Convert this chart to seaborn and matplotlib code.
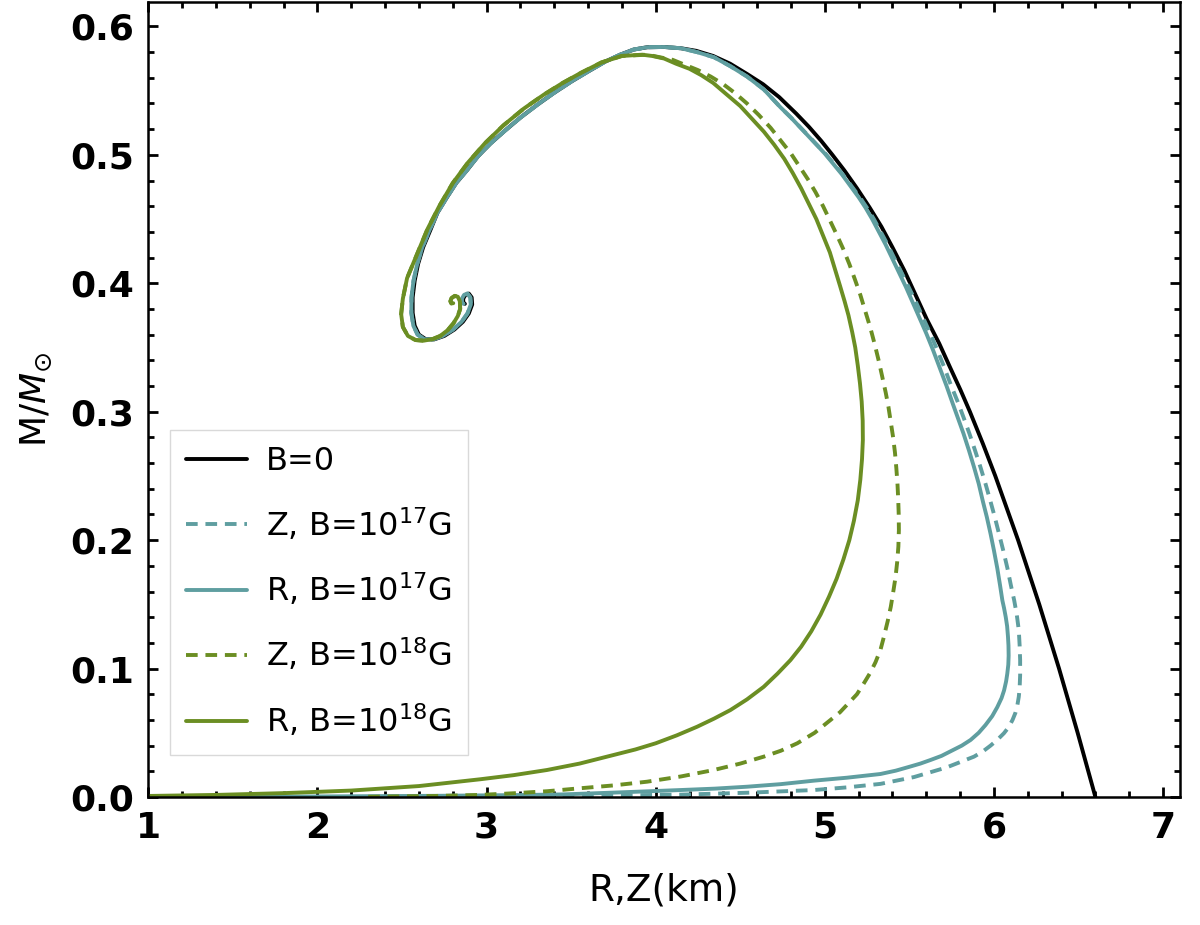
import matplotlib
matplotlib.use("Agg")
import matplotlib.pyplot as plt
import seaborn as sns
from matplotlib.ticker import MultipleLocator, FormatStrFormatter

# B=0
b0_x = [6.60, 6.495, 6.385, 6.268, 6.143, 6.008, 5.935, 5.858, 5.802, 5.739, 5.677, 5.603, 5.533,
        5.47, 5.40, 5.335, 5.265, 5.19, 5.115, 5.045, 4.978, 4.905, 4.832, 4.73, 4.635, 4.54,
        4.44, 4.34, 4.24, 4.15, 4.05, 3.95, 3.87, 3.79, 3.70, 3.594, 3.50, 3.396, 3.30, 3.20,
        3.11, 3.022, 2.95, 2.884, 2.82, 2.766, 2.71, 2.667, 2.625, 2.595, 2.575, 2.563, 2.563,
        2.575, 2.60, 2.64, 2.69, 2.75, 2.81, 2.86, 2.895, 2.915, 2.912, 2.895, 2.875, 2.862,
        2.862, 2.872]
b0_y = [0.0, 0.050, 0.100, 0.150, 0.200, 0.250, 0.275, 0.300, 0.317, 0.335, 0.353, 0.372, 0.392,
        0.410, 0.428, 0.444, 0.459, 0.474, 0.488, 0.500, 0.511, 0.522, 0.532, 0.545, 0.555,
        0.563, 0.571, 0.577, 0.581, 0.583, 0.584, 0.5838, 0.582, 0.578, 0.5725, 0.5644, 0.557,
        0.548, 0.539, 0.529, 0.519, 0.5087, 0.499, 0.488, 0.478, 0.467, 0.455, 0.4412, 0.428,
        0.415, 0.402, 0.389, 0.377, 0.367, 0.360, 0.3565, 0.3563, 0.359, 0.364, 0.370, 0.3765,
        0.3835, 0.389, 0.392, 0.391, 0.388, 0.385, 0.384]

# upper branch shared by both B=10^17 curves
top17_x = [4.639, 4.54, 4.442, 4.345, 4.245, 4.15, 4.05, 3.95, 3.87, 3.79, 3.70, 3.594, 3.50,
           3.396, 3.30, 3.20, 3.11, 3.022, 2.95, 2.884, 2.82, 2.766, 2.71, 2.662, 2.62, 2.59,
           2.568, 2.556, 2.555, 2.567, 2.592, 2.632, 2.682, 2.742, 2.802, 2.852, 2.887, 2.907,
           2.904, 2.887, 2.867, 2.854, 2.854, 2.864]
top17_y = [0.551, 0.561, 0.569, 0.576, 0.580, 0.583, 0.584, 0.5838, 0.582, 0.578, 0.5725, 0.5644,
           0.557, 0.548, 0.539, 0.529, 0.519, 0.5087, 0.499, 0.488, 0.478, 0.467, 0.455, 0.4412,
           0.428, 0.415, 0.402, 0.389, 0.377, 0.367, 0.360, 0.3565, 0.3563, 0.359, 0.364, 0.370,
           0.3765, 0.3835, 0.389, 0.392, 0.391, 0.388, 0.385, 0.384]

# Z, B=10^17 G
z17_x = [2.3, 3.0, 3.6, 4.146, 4.541, 4.935, 5.133, 5.329, 5.527, 5.72, 5.882, 5.935, 5.98, 6.02,
         6.059, 6.088, 6.11, 6.127, 6.138, 6.147, 6.152, 6.155, 6.155, 6.152, 6.147, 6.135, 6.12,
         6.10, 6.08, 6.055, 6.03, 6.005, 5.98, 5.95, 5.92, 5.888, 5.855, 5.822, 5.788, 5.745,
         5.705, 5.662, 5.62, 5.578, 5.537, 5.496, 5.455, 5.413, 5.372, 5.331, 5.29, 5.248, 5.207,
         5.156, 5.105, 5.054, 5.003, 4.952, 4.902, 4.851, 4.80, 4.738]
z17_y = [0.0001, 0.0005, 0.0010, 0.0018, 0.0033, 0.0054, 0.0075, 0.0102, 0.0155, 0.0230, 0.0314,
         0.0355, 0.040, 0.0445, 0.0496, 0.0545, 0.060, 0.0655, 0.071, 0.078, 0.085, 0.095, 0.1066,
         0.118, 0.130, 0.142, 0.153, 0.165, 0.178, 0.192, 0.205, 0.218, 0.230, 0.244, 0.257,
         0.270, 0.283, 0.295, 0.307, 0.321, 0.335, 0.349, 0.362, 0.374, 0.386, 0.397, 0.408,
         0.419, 0.430, 0.440, 0.450, 0.459, 0.467, 0.476, 0.485, 0.493, 0.501, 0.508, 0.515,
         0.522, 0.529, 0.537]

# R, B=10^17 G
r17_x = [1.3, 2.0, 2.7, 3.2, 3.45, 3.751, 4.146, 4.35, 4.541, 4.74, 4.935, 5.13, 5.329, 5.42,
         5.50, 5.565, 5.625, 5.69, 5.75, 5.81, 5.862, 5.91, 5.95, 5.99, 6.02, 6.045, 6.06, 6.072,
         6.079, 6.085, 6.087, 6.086, 6.083, 6.078, 6.07, 6.06, 6.05, 6.036, 6.02, 6.00, 5.98,
         5.958, 5.935, 5.91, 5.882, 5.852, 5.82, 5.79, 5.76, 5.72, 5.68, 5.64, 5.60, 5.56, 5.52,
         5.48, 5.44, 5.40, 5.36, 5.32, 5.28, 5.24, 5.20, 5.15, 5.10, 5.05, 5.00, 4.95, 4.90,
         4.85, 4.80, 4.738]
r17_y = [0.0002, 0.0004, 0.0009, 0.0015, 0.0020, 0.0034, 0.0054, 0.0065, 0.0080, 0.0100, 0.0127,
         0.0150, 0.0179, 0.0205, 0.0235, 0.0260, 0.0288, 0.032, 0.036, 0.040, 0.0444, 0.050,
         0.056, 0.063, 0.070, 0.077, 0.083, 0.090, 0.096, 0.103, 0.110, 0.118, 0.125, 0.133,
         0.140, 0.147, 0.153, 0.165, 0.178, 0.192, 0.205, 0.218, 0.230, 0.244, 0.257, 0.270,
         0.283, 0.294, 0.305, 0.320, 0.334, 0.348, 0.361, 0.373, 0.385, 0.397, 0.408, 0.419,
         0.430, 0.440, 0.450, 0.459, 0.467, 0.476, 0.485, 0.493, 0.501, 0.508, 0.515, 0.522,
         0.529, 0.537]

# upper branch shared by both B=10^18 curves
top18_x = [3.80, 3.68, 3.56, 3.45, 3.34, 3.22, 3.10, 2.99, 2.89, 2.80, 2.72, 2.65, 2.59, 2.53,
           2.505, 2.495, 2.505, 2.535, 2.58, 2.627, 2.68, 2.726, 2.77, 2.805, 2.83, 2.844, 2.842,
           2.83, 2.812, 2.793, 2.786, 2.792, 2.803]
top18_y = [0.577, 0.572, 0.564, 0.556, 0.547, 0.536, 0.523, 0.509, 0.494, 0.478, 0.460, 0.442,
           0.423, 0.404, 0.388, 0.376, 0.366, 0.359, 0.3558, 0.3553, 0.3565, 0.359, 0.3635, 0.369,
           0.3745, 0.380, 0.386, 0.3895, 0.3902, 0.3885, 0.386, 0.3843, 0.3845]

# Z, B=10^18 G
z18_x = [2.3, 2.7, 2.96, 3.16, 3.36, 3.554, 3.75, 3.949, 4.15, 4.343, 4.50, 4.639, 4.74, 4.837,
         4.94, 5.034, 5.09, 5.14, 5.19, 5.231, 5.27, 5.30, 5.33, 5.35, 5.372, 5.39, 5.405, 5.418,
         5.428, 5.435, 5.438, 5.437, 5.434, 5.43, 5.423, 5.415, 5.404, 5.39, 5.376, 5.36, 5.34,
         5.32, 5.296, 5.27, 5.24, 5.21, 5.178, 5.145, 5.108, 5.07, 5.03, 4.99, 4.945, 4.90, 4.85,
         4.80, 4.74, 4.68, 4.61, 4.54, 4.47, 4.40, 4.325, 4.25, 4.175, 4.10, 4.025, 3.95]
z18_y = [0.0002, 0.0008, 0.0016, 0.0029, 0.0045, 0.0068, 0.0090, 0.0119, 0.0160, 0.0210, 0.0260,
         0.0314, 0.036, 0.0418, 0.050, 0.060, 0.066, 0.073, 0.080, 0.0885, 0.097, 0.105, 0.115,
         0.125, 0.137, 0.148, 0.160, 0.171, 0.183, 0.195, 0.208, 0.220, 0.232, 0.243, 0.256,
         0.268, 0.280, 0.292, 0.304, 0.315, 0.327, 0.339, 0.352, 0.365, 0.378, 0.391, 0.403,
         0.415, 0.427, 0.438, 0.449, 0.460, 0.471, 0.481, 0.491, 0.501, 0.511, 0.521, 0.531,
         0.540, 0.548, 0.555, 0.561, 0.566, 0.570, 0.574, 0.576, 0.578]

# R, B=10^18 G
r18_x = [1.0, 1.4, 1.8, 2.2, 2.6, 2.963, 3.16, 3.357, 3.55, 3.751, 3.88, 4.0, 4.125, 4.245, 4.345,
         4.442, 4.54, 4.639, 4.72, 4.797, 4.86, 4.92, 4.975, 5.025, 5.07, 5.11, 5.145, 5.172,
         5.195, 5.21, 5.22, 5.225, 5.224, 5.218, 5.208, 5.195, 5.18, 5.162, 5.14, 5.117, 5.09,
         5.06, 5.03, 4.99, 4.95, 4.905, 4.86, 4.81, 4.76, 4.70, 4.64, 4.57, 4.50, 4.42, 4.34,
         4.27, 4.20, 4.12, 4.05, 3.98, 3.92]
r18_y = [0.0008, 0.0016, 0.0030, 0.0050, 0.0085, 0.0138, 0.0170, 0.0210, 0.0260, 0.0327, 0.0370,
         0.0418, 0.0480, 0.0547, 0.0610, 0.0677, 0.0760, 0.0858, 0.0960, 0.1066, 0.117, 0.129,
         0.142, 0.156, 0.170, 0.185, 0.200, 0.215, 0.231, 0.247, 0.263, 0.278, 0.293, 0.308,
         0.322, 0.336, 0.350, 0.362, 0.375, 0.386, 0.398, 0.411, 0.424, 0.437, 0.450, 0.462,
         0.474, 0.486, 0.497, 0.508, 0.518, 0.528, 0.538, 0.547, 0.556, 0.562, 0.567, 0.571,
         0.575, 0.577, 0.578]

labels = ["B=0", "Z, B=10$^{17}$G", "R, B=10$^{17}$G", "Z, B=10$^{18}$G", "R, B=10$^{18}$G"]

sns.set_theme(style="ticks")
plt.rcParams["font.family"] = ["DejaVu Sans"]
plt.rcParams["mathtext.fontset"] = "dejavusans"
for key in ["text.color", "axes.labelcolor", "xtick.color", "ytick.color", "axes.edgecolor"]:
    plt.rcParams[key] = "black"

teal = "#5F9EA0"
green = "#6B8E23"
lw = 2.8
dash = (0, (3, 2))

fig = plt.figure(figsize=(12, 9.25), dpi=100)
ax = fig.add_axes([0.1236, 0.1384, 0.8597, 0.8594])

sns.lineplot(x=b0_x, y=b0_y, sort=False, estimator=None, color="black", linewidth=lw,
             label=labels[0], ax=ax)
sns.lineplot(x=z17_x + top17_x, y=z17_y + top17_y, sort=False, estimator=None, color=teal,
             linewidth=lw, linestyle=dash, label=labels[1], ax=ax)
sns.lineplot(x=r17_x + top17_x, y=r17_y + top17_y, sort=False, estimator=None, color=teal,
             linewidth=lw, label=labels[2], ax=ax)
sns.lineplot(x=z18_x + top18_x, y=z18_y + top18_y, sort=False, estimator=None, color=green,
             linewidth=lw, linestyle=dash, label=labels[3], ax=ax)
sns.lineplot(x=r18_x + top18_x, y=r18_y + top18_y, sort=False, estimator=None, color=green,
             linewidth=lw, label=labels[4], ax=ax)

ax.set_xlim(1, 7.1)
ax.set_ylim(0, 0.619)
ax.xaxis.set_major_locator(MultipleLocator(1))
ax.xaxis.set_minor_locator(MultipleLocator(0.2))
ax.yaxis.set_major_locator(MultipleLocator(0.1))
ax.yaxis.set_minor_locator(MultipleLocator(0.02))
ax.yaxis.set_major_formatter(FormatStrFormatter("%.1f"))
ax.tick_params(which="both", direction="in", top=True, right=True, width=2)
ax.tick_params(which="major", length=7, labelsize=26, pad=10)
ax.tick_params(which="minor", length=4)
for lbl in ax.get_xticklabels() + ax.get_yticklabels():
    lbl.set_fontweight("bold")
for sp in ax.spines.values():
    sp.set_linewidth(1.8)

ax.set_xlabel("R,Z(km)", fontsize=27, labelpad=20)
ax.set_ylabel(r"M/$\mathit{M}_{\odot}$", fontsize=26, labelpad=12)

ax.legend(loc="lower left", bbox_to_anchor=(0.021, 0.053), borderaxespad=0, fontsize=23,
          handlelength=1.9, handletextpad=0.6, labelspacing=0.9, borderpad=0.5,
          frameon=True, fancybox=False, edgecolor="#d9d9d9", framealpha=1)

fig.savefig("out.png", dpi=100, facecolor="white")
